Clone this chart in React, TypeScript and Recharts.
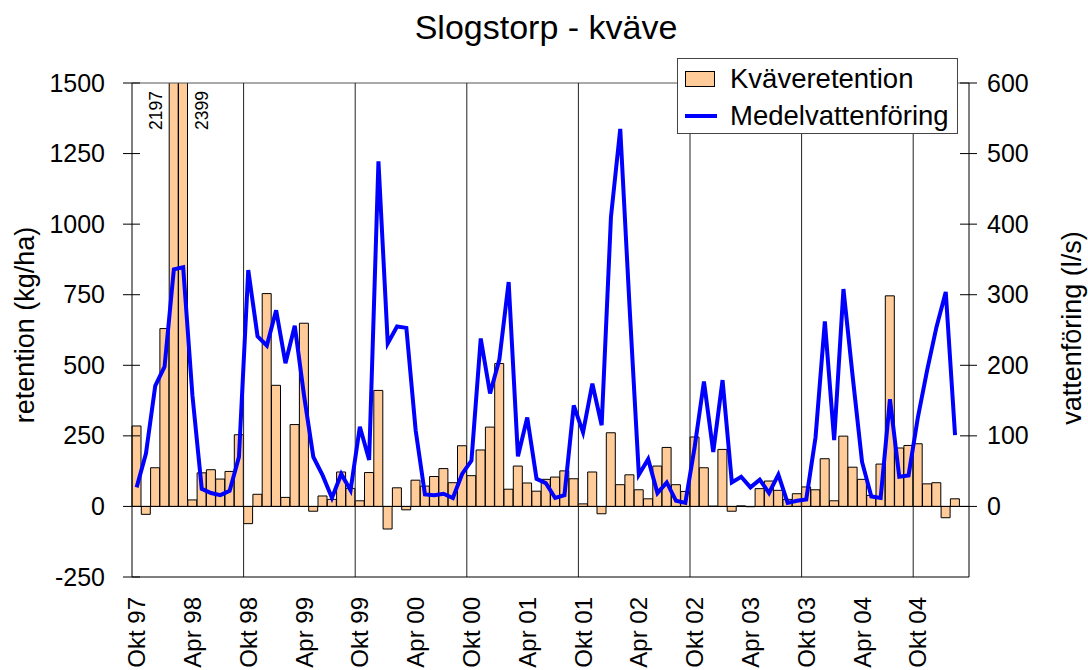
import React from 'react';
import { ComposedChart, Bar, Line, XAxis, YAxis, ReferenceLine, Legend, LabelList } from 'recharts';

const categories = [
  'Okt 97','Nov 97','Dec 97','Jan 98','Feb 98','Mar 98','Apr 98','Maj 98','Jun 98','Jul 98','Aug 98','Sep 98',
  'Okt 98','Nov 98','Dec 98','Jan 99','Feb 99','Mar 99','Apr 99','Maj 99','Jun 99','Jul 99','Aug 99','Sep 99',
  'Okt 99','Nov 99','Dec 99','Jan 00','Feb 00','Mar 00','Apr 00','Maj 00','Jun 00','Jul 00','Aug 00','Sep 00',
  'Okt 00','Nov 00','Dec 00','Jan 01','Feb 01','Mar 01','Apr 01','Maj 01','Jun 01','Jul 01','Aug 01','Sep 01',
  'Okt 01','Nov 01','Dec 01','Jan 02','Feb 02','Mar 02','Apr 02','Maj 02','Jun 02','Jul 02','Aug 02','Sep 02',
  'Okt 02','Nov 02','Dec 02','Jan 03','Feb 03','Mar 03','Apr 03','Maj 03','Jun 03','Jul 03','Aug 03','Sep 03',
  'Okt 03','Nov 03','Dec 03','Jan 04','Feb 04','Mar 04','Apr 04','Maj 04','Jun 04','Jul 04','Aug 04','Sep 04',
  'Okt 04','Nov 04','Dec 04','Jan 05','Feb 05','Mar 05',
];

const retention: (number | null)[] = [
  285, -28, 137, 630, 2197, 2399, 23, 119, 130, 97, 124, 254,
  -61, 43, 754, 429, 32, 290, 649, -17, 37, 25, 122, 64,
  20, 120, 411, -80, 66, -12, 93, 72, 106, 134, 84, 215,
  109, 200, 281, 506, 61, 143, 83, 54, 96, 104, 126, 98,
  9, 122, -26, 261, 77, 112, 59, 27, 143, 209, 77, 53,
  246, 137, 1, 202, -17, 2, -1, 63, 90, 57, 25, 45,
  69, 59, 169, 20, 249, 139, 96, 39, 150, 746, 207, 216,
  222, 80, 84, -40, 27, null,
];

const flow: (number | null)[] = [
  27, 75, 171, 198, 336, 339, 157, 25, 19, 16, 22, 70,
  335, 241, 228, 278, 203, 256, 157, 70, 44, 12, 46, 23,
  113, 66, 489, 231, 255, 253, 108, 17, 16, 18, 12, 46,
  65, 238, 160, 208, 318, 71, 126, 39, 33, 12, 16, 143,
  105, 174, 115, 410, 535, 283, 45, 67, 19, 34, 8, 5,
  84, 177, 77, 179, 34, 42, 27, 38, 19, 45, 5, 8,
  10, 98, 262, 94, 308, 183, 63, 14, 12, 152, 42, 44,
  126, 193, 254, 304, 101, null,
];

const tickLabels = [
  'Okt 97','Apr 98','Okt 98','Apr 99','Okt 99','Apr 00','Okt 00','Apr 01',
  'Okt 01','Apr 02','Okt 02','Apr 03','Okt 03','Apr 04','Okt 04',
];
const yearStarts = ['Okt 98','Okt 99','Okt 00','Okt 01','Okt 02','Okt 03','Okt 04'];
const leftTicks = [-250, 0, 250, 500, 750, 1000, 1250, 1500];
const rightTicks = [0, 100, 200, 300, 400, 500, 600];

const data = categories.map((c, i) => ({ cat: c, ret: retention[i], flow: flow[i] }));

const FONT = '"Liberation Sans", Arial, Helvetica, sans-serif';
const LEFT_MAX = 1500;
const PLOT_TOP = 83;

const LeftTick = (props: any) => {
  const { x, y, payload } = props;
  return (
    <g>
      <line x1={x - 9} x2={x + 8} y1={y} y2={y} stroke="#000" strokeWidth={1} />
      <text x={x - 27} y={y + 8.5} textAnchor="end" fontSize={25} fontFamily={FONT} fill="#000">
        {payload.value}
      </text>
    </g>
  );
};

const RightTick = (props: any) => {
  const { x, y, payload } = props;
  return (
    <g>
      <line x1={x - 9} x2={x + 8} y1={y} y2={y} stroke="#000" strokeWidth={1} />
      <text x={x + 18} y={y + 8.5} textAnchor="start" fontSize={25} fontFamily={FONT} fill="#000">
        {payload.value}
      </text>
    </g>
  );
};

const BottomTick = (props: any) => {
  const { x, y, payload } = props;
  return (
    <text
      transform={`translate(${x + 8.5},${y + 20}) rotate(-90)`}
      textAnchor="end"
      fontSize={24}
      fontFamily={FONT}
      fill="#000"
    >
      {payload.value}
    </text>
  );
};

const OverflowLabel = (props: any) => {
  const { x, width, value, index } = props;
  if (value == null || value <= LEFT_MAX) return null;
  const next = retention[index + 1];
  const leftSide = next != null && next > LEFT_MAX;
  const cx = leftSide ? x - 13 : x + width + 14;
  return (
    <text
      transform={`translate(${cx},${PLOT_TOP + 8}) rotate(-90)`}
      textAnchor="end"
      dominantBaseline="central"
      fontSize={17.5}
      fontFamily={FONT}
      fill="#000"
    >
      {value}
    </text>
  );
};

const LegendBox = () => (
  <div
    style={{
      width: 281,
      height: 76,
      boxSizing: 'border-box',
      border: '1px solid #444',
      background: '#fff',
      position: 'relative',
      fontFamily: FONT,
      fontSize: 27.5,
      color: '#000',
    }}
  >
    <div
      style={{
        position: 'absolute', left: 7, top: 12, width: 30, height: 16,
        background: '#FFCC99', border: '1px solid #000', boxSizing: 'border-box',
      }}
    />
    <div style={{ position: 'absolute', left: 52, top: 5, lineHeight: '30px', whiteSpace: 'nowrap' }}>
      Kväveretention
    </div>
    <div style={{ position: 'absolute', left: 7, top: 55, width: 32, height: 4, background: '#0000FF' }} />
    <div style={{ position: 'absolute', left: 52, top: 42, lineHeight: '30px', whiteSpace: 'nowrap' }}>
      Medelvattenföring
    </div>
  </div>
);

export default function App() {
  return (
    <div style={{ position: 'absolute', left: 0, top: 0, width: 1088, height: 670, background: '#fff', fontFamily: FONT }}>
      <div
        style={{
          position: 'absolute', left: 346, width: 400, top: 10, textAlign: 'center',
          fontSize: 34, lineHeight: '34px', color: '#000', fontFamily: FONT, whiteSpace: 'nowrap',
        }}
      >
        Slogstorp - kväve
      </div>
      <ComposedChart
        width={1088}
        height={670}
        data={data}
        margin={{ top: 83, right: 0, bottom: 0, left: 0 }}
        barCategoryGap={0}
        barGap={0}
      >
        <XAxis
          dataKey="cat"
          type="category"
          ticks={tickLabels}
          interval={0}
          height={93}
          tickLine={false}
          tickSize={0}
          tickMargin={0}
          axisLine={{ stroke: '#000', strokeWidth: 1 }}
          tick={<BottomTick />}
        />
        <YAxis
          yAxisId="l"
          orientation="left"
          width={132}
          domain={[-250, 1500]}
          ticks={leftTicks}
          allowDataOverflow
          tickLine={false}
          tickSize={0}
          tickMargin={0}
          axisLine={{ stroke: '#000', strokeWidth: 1 }}
          tick={<LeftTick />}
          label={{
            content: () => (
              <text
                transform="translate(34,325) rotate(-90)"
                textAnchor="middle"
                fontSize={27}
                fontFamily={FONT}
                fill="#000"
              >
                retention (kg/ha)
              </text>
            ),
          }}
        />
        <YAxis
          yAxisId="r"
          orientation="right"
          width={119}
          domain={[-100, 600]}
          ticks={rightTicks}
          allowDataOverflow
          tickLine={false}
          tickSize={0}
          tickMargin={0}
          axisLine={{ stroke: '#000', strokeWidth: 1 }}
          tick={<RightTick />}
          label={{
            content: () => (
              <text
                transform="translate(1081,328) rotate(-90)"
                textAnchor="middle"
                fontSize={27}
                fontFamily={FONT}
                fill="#000"
              >
                vattenföring (l/s)
              </text>
            ),
          }}
        />
        <ReferenceLine yAxisId="l" y={1500} stroke="#555" strokeWidth={1} />
        {yearStarts.map((c) => (
          <ReferenceLine key={c} yAxisId="l" x={c} position="start" stroke="#222" strokeWidth={1} />
        ))}
        <Bar
          yAxisId="l"
          dataKey="ret"
          name="Kväveretention"
          fill="#FFCC99"
          stroke="#000"
          strokeWidth={1}
          isAnimationActive={false}
        >
          <LabelList dataKey="ret" content={<OverflowLabel />} />
        </Bar>
        <ReferenceLine yAxisId="l" y={0} stroke="#000" strokeWidth={1} />
        <Line
          yAxisId="r"
          dataKey="flow"
          name="Medelvattenföring"
          type="linear"
          stroke="#0000FF"
          strokeWidth={4}
          dot={false}
          activeDot={false}
          isAnimationActive={false}
        />
        <Legend
          layout="horizontal"
          verticalAlign="middle"
          align="center"
          width={281}
          height={76}
          wrapperStyle={{ left: 677, top: 58, width: 281, height: 76 }}
          content={<LegendBox />}
        />
      </ComposedChart>
    </div>
  );
}
